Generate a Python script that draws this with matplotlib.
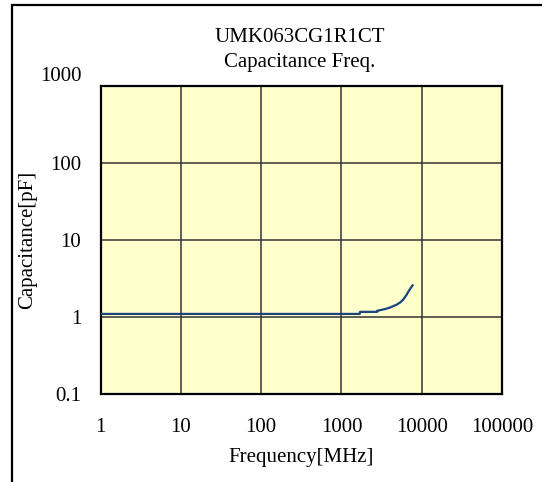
import matplotlib.pyplot as plt
from matplotlib.patches import Rectangle

# data
freq_mhz = [1, 1690, 1700, 2780, 2800, 3470, 4010, 4860, 5330, 5860, 6470, 6970, 7680]
cap_pf = [1.1, 1.1, 1.17, 1.17, 1.21, 1.27, 1.33, 1.45, 1.54, 1.68, 1.95, 2.23, 2.59]
x_ticks = [1, 10, 100, 1000, 10000, 100000]
y_ticks = [0.1, 1, 10, 100, 1000]

plt.rcParams['font.family'] = ['Liberation Serif', 'DejaVu Serif']

fig = plt.figure(figsize=(5.42, 4.82), dpi=100)
ax = fig.add_axes([0.1858, 0.1826, 0.7404, 0.638])
ax.set_facecolor('#FFFFCC')

ax.plot(freq_mhz, cap_pf, color='#1a4480', lw=1.6, zorder=3)

ax.set_xscale('log')
ax.set_yscale('log')
ax.set_xlim(1, 100000)
ax.set_ylim(0.1, 1000)
ax.set_xticks(x_ticks)
ax.set_xticklabels([str(v) for v in x_ticks])
ax.set_yticks(y_ticks)
ax.set_yticklabels(['0.1', '1', '10', '100', '1000'])
ax.minorticks_off()
ax.tick_params(axis='both', length=0, labelsize=15)
ax.tick_params(axis='x', pad=17)
ax.tick_params(axis='y', pad=14)
ax.grid(True, color='#333333', lw=1.1)
ax.set_axisbelow(True)
for s in ax.spines.values():
    s.set_linewidth(1.6)
    s.set_color('black')

# the top label sits above the plot box in the original
ax.get_yticklabels()[-1].set_va('bottom')

ax.set_xlabel('Frequency[MHz]', fontsize=15, labelpad=8)
ax.set_ylabel('Capacitance[pF]', fontsize=15, labelpad=2)

fig.text(0.5535, 1 - 37 / 482, 'UMK063CG1R1CT', ha='center', va='center', fontsize=15)
fig.text(0.5535, 1 - 62 / 482, 'Capacitance Freq.', ha='center', va='center', fontsize=15)

# outer frame, runs off the right and bottom edges
fig.patches.append(Rectangle((11.7 / 542, -0.1), 1.2, 1 - 5.3 / 482 + 0.1,
                             transform=fig.transFigure, fill=False,
                             lw=1.6, edgecolor='black'))

fig.savefig('out.png', dpi=100)
